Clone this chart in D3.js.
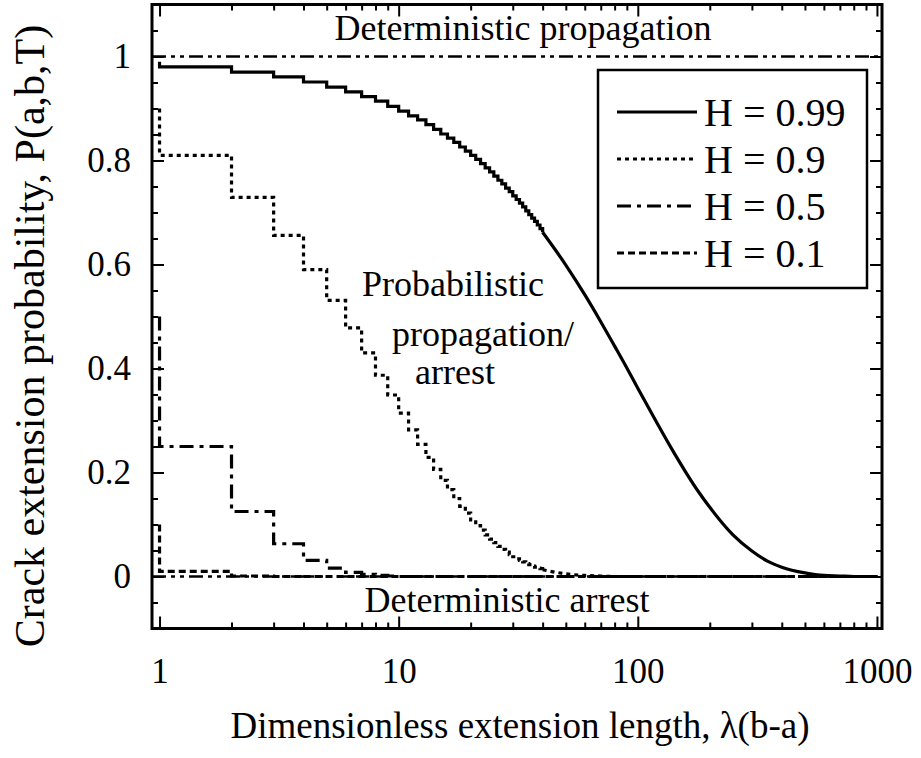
<!DOCTYPE html>
<html>
<head>
<meta charset="utf-8">
<script src="https://cdn.jsdelivr.net/npm/d3@7"></script>
<style>
  body { margin: 0; background: #fff; }
  text { font-family: "Liberation Serif", "Times New Roman", serif; fill: #000; }
</style>
</head>
<body>
<svg width="921" height="758"></svg>
<script>
// lambda positions of the staircase (first point repeated for the drop at lambda = 1)
var stepLambda = [1, 1, 2, 3, 4, 5, 6, 7, 8, 9, 10, 11, 12, 13, 14, 15, 16, 17, 18, 19, 20,
                  21, 22, 23, 24, 25, 26, 27, 28, 29, 30, 31, 32, 33, 34, 35, 36, 37, 38, 39, 40];

// staircase values
var h99Step = [0.990, 0.980, 0.970, 0.961, 0.951, 0.941, 0.932, 0.923, 0.914, 0.904, 0.895,
               0.886, 0.878, 0.869, 0.860, 0.851, 0.843, 0.835, 0.826, 0.818, 0.810,
               0.802, 0.794, 0.786, 0.778, 0.770, 0.762, 0.755, 0.747, 0.740, 0.732,
               0.725, 0.718, 0.711, 0.703, 0.696, 0.689, 0.683, 0.676, 0.669, 0.662];
var h90Step = [0.900, 0.810, 0.729, 0.656, 0.590, 0.531, 0.478, 0.430, 0.387, 0.349, 0.314,
               0.282, 0.254, 0.229, 0.206, 0.185, 0.167, 0.150, 0.135, 0.122, 0.109,
               0.098, 0.089, 0.080, 0.072, 0.065, 0.058, 0.052, 0.047, 0.042, 0.038,
               0.034, 0.031, 0.028, 0.025, 0.023, 0.020, 0.018, 0.016, 0.015, 0.013];
var h50Step = [0.500, 0.250, 0.125, 0.063, 0.031, 0.016, 0.008, 0.004, 0.002, 0.001, 0.000, 0.000];
var h10Step = [0.100, 0.010, 0.001, 0.000, 0.000];

// smooth tails where the steps get too small to see
var h99TailX = [40, 50, 60, 70, 80, 90, 100, 120, 140, 160, 180, 200, 250, 300, 350, 400, 500, 600, 700, 800, 1000];
var h99TailY = [0.662, 0.599, 0.542, 0.490, 0.443, 0.401, 0.362, 0.296, 0.242, 0.198, 0.162, 0.133,
                0.080, 0.049, 0.029, 0.018, 0.007, 0.002, 0.001, 0.000, 0.000];
var h90TailX = [40, 50, 60, 70, 80, 100, 1000];
var h90TailY = [0.013, 0.005, 0.002, 0.001, 0.000, 0.000, 0.000];
var h50TailX = [11, 1000];
var h50TailY = [0.000, 0.000];
var h10TailX = [4, 1000];
var h10TailY = [0.000, 0.000];

var legendLabels = ["H = 0.99", "H = 0.9", "H = 0.5", "H = 0.1"];
var xTickValues = [1, 10, 100, 1000];
var xTickLabels = ["1", "10", "100", "1000"];
var yTickValues = [0, 0.2, 0.4, 0.6, 0.8, 1];
var yTickLabels = ["0", "0.2", "0.4", "0.6", "0.8", "1"];
var limitLambda = [0.93, 1050];

var svg = d3.select("svg");
var mLeft = 152, mRight = 882, mTop = 4.5, mBottom = 628.5;

var x = d3.scaleLog().domain([0.93, 1050]).range([mLeft, mRight]);
var y = d3.scaleLinear().domain([-0.1, 1.1]).range([mBottom, mTop]);

var dashes = ["none", "4,4", "14,6,4,6", "7,4"];
var series = [
    { step: h99Step, tx: h99TailX, ty: h99TailY },
    { step: h90Step, tx: h90TailX, ty: h90TailY },
    { step: h50Step, tx: h50TailX, ty: h50TailY },
    { step: h10Step, tx: h10TailX, ty: h10TailY }
];

// minor ticks
var xMinor = [];
[1, 10, 100].forEach(function (d) {
    for (var k = 2; k <= 9; k++) xMinor.push(d * k);
});
var yMinor = d3.range(-0.05, 1.1, 0.05).filter(function (d) {
    return Math.abs(Math.round(d * 5) - d * 5) > 1e-6;
});

function noDomain(g) { g.select(".domain").remove(); g.selectAll("line").attr("stroke-width", 2); }

svg.append("g").attr("transform", "translate(0," + mBottom + ")")
    .call(d3.axisBottom(x).tickValues(xTickValues).tickSize(-12).tickPadding(30)
        .tickFormat(function (d, i) { return xTickLabels[i]; }))
    .call(noDomain)
    .selectAll("text").attr("font-size", 35).attr("font-family", "Liberation Serif");
svg.append("g").attr("transform", "translate(0," + mBottom + ")")
    .call(d3.axisBottom(x).tickValues(xMinor).tickSize(-6).tickFormat(""))
    .call(noDomain);
svg.append("g").attr("transform", "translate(0," + mTop + ")")
    .call(d3.axisTop(x).tickValues(xTickValues).tickSize(-12).tickFormat(""))
    .call(noDomain);
svg.append("g").attr("transform", "translate(0," + mTop + ")")
    .call(d3.axisTop(x).tickValues(xMinor).tickSize(-6).tickFormat(""))
    .call(noDomain);

svg.append("g").attr("transform", "translate(" + mLeft + ",0)")
    .call(d3.axisLeft(y).tickValues(yTickValues).tickSize(-12).tickPadding(21)
        .tickFormat(function (d, i) { return yTickLabels[i]; }))
    .call(noDomain)
    .selectAll("text").attr("font-size", 35).attr("font-family", "Liberation Serif");
svg.append("g").attr("transform", "translate(" + mLeft + ",0)")
    .call(d3.axisLeft(y).tickValues(yMinor).tickSize(-6).tickFormat(""))
    .call(noDomain);
svg.append("g").attr("transform", "translate(" + mRight + ",0)")
    .call(d3.axisRight(y).tickValues(yTickValues).tickSize(-12).tickFormat(""))
    .call(noDomain);
svg.append("g").attr("transform", "translate(" + mRight + ",0)")
    .call(d3.axisRight(y).tickValues(yMinor).tickSize(-6).tickFormat(""))
    .call(noDomain);

// deterministic limits H = 1 and H = 0
var limitLine = d3.line().x(function (d) { return x(d[0]); }).y(function (d) { return y(d[1]); });
[1, 0].forEach(function (v) {
    svg.append("path")
        .attr("d", limitLine(limitLambda.map(function (l) { return [l, v]; })))
        .attr("fill", "none").attr("stroke", "#000").attr("stroke-width", 2.5)
        .attr("stroke-dasharray", "14,5,4,5,4,5");
});

var stepLine = d3.line().curve(d3.curveStepAfter)
    .x(function (d) { return x(d[0]); }).y(function (d) { return y(d[1]); });
var tailLine = d3.line().curve(d3.curveMonotoneX)
    .x(function (d) { return x(d[0]); }).y(function (d) { return y(d[1]); });

series.forEach(function (s, i) {
    var pts = s.step.map(function (v, j) { return [stepLambda[j], v]; });
    var tail = s.tx.map(function (l, j) { return [l, s.ty[j]]; });
    [stepLine(pts), tailLine(tail)].forEach(function (d) {
        svg.append("path").attr("d", d)
            .attr("fill", "none").attr("stroke", "#000").attr("stroke-width", 3.2)
            .attr("stroke-dasharray", dashes[i]);
    });
});

// frame
svg.append("rect").attr("x", mLeft).attr("y", mTop)
    .attr("width", mRight - mLeft).attr("height", mBottom - mTop)
    .attr("fill", "none").attr("stroke", "#000").attr("stroke-width", 3);

// legend
var lg = svg.append("g");
lg.append("rect").attr("x", 598).attr("y", 70).attr("width", 269).attr("height", 218)
    .attr("fill", "#fff").attr("stroke", "#000").attr("stroke-width", 2.5);
legendLabels.forEach(function (t, i) {
    var cy = 112 + i * 47;
    lg.append("line").attr("x1", 617).attr("x2", 697).attr("y1", cy).attr("y2", cy)
        .attr("stroke", "#000").attr("stroke-width", 3).attr("stroke-dasharray", dashes[i]);
    lg.append("text").attr("x", 704).attr("y", cy + 14).attr("font-size", 40).text(t);
});

// annotations
svg.append("text").attr("x", 523).attr("y", 40).attr("text-anchor", "middle")
    .attr("font-size", 36).text("Deterministic propagation");
svg.append("text").attr("x", 507).attr("y", 612).attr("text-anchor", "middle")
    .attr("font-size", 36).text("Deterministic arrest");
svg.append("text").attr("x", 362).attr("y", 296).attr("font-size", 36).text("Probabilistic");
svg.append("text").attr("x", 392).attr("y", 346).attr("font-size", 36).text("propagation/");
svg.append("text").attr("x", 415).attr("y", 384).attr("font-size", 36).text("arrest");

// axis titles
svg.append("text").attr("x", 520).attr("y", 738).attr("text-anchor", "middle")
    .attr("font-size", 37).text("Dimensionless extension length, \u03bb(b-a)");
svg.append("text").attr("transform", "translate(44,336) rotate(-90)")
    .attr("text-anchor", "middle").attr("font-size", 42)
    .text("Crack extension probability, P(a,b,T)");
</script>
</body>
</html>
